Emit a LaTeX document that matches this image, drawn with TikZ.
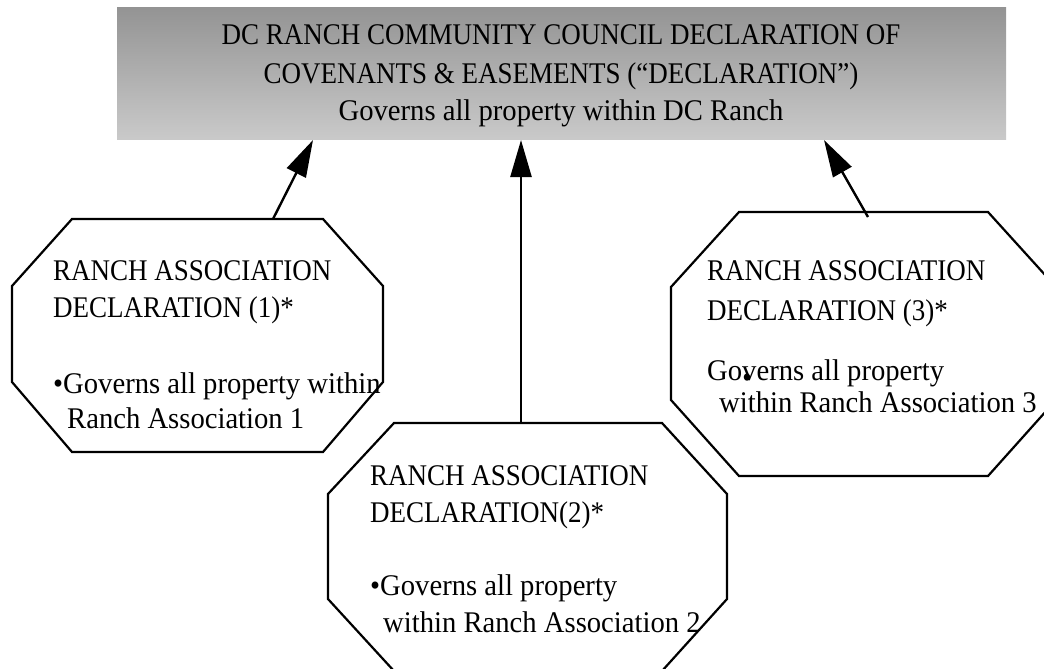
\documentclass[tikz,border=0pt]{standalone}
\usepackage{fontspec}
\setmainfont{Liberation Serif}[FakeStretch=0.9]
\newfontfamily\lcfont{Liberation Serif}[FakeStretch=0.955]
\usetikzlibrary{arrows.meta}
\begin{document}
\begin{tikzpicture}[x=1pt,y=-1pt,
  oct/.style={draw=black,line width=2.2pt,line join=miter},
  txt/.style={anchor=base west,inner sep=0pt,font=\fontsize{30}{36}\selectfont},
  lctxt/.style={anchor=base west,inner sep=0pt,font=\fontsize{30}{36}\selectfont\lcfont},
  ttl/.style={anchor=base,inner sep=0pt,font=\fontsize{30}{36}\selectfont},
  link/.style={line width=2.4pt,-{Triangle[length=37pt,width=21pt]}}]
\useasboundingbox (0,0) rectangle (1044,669);
% title box
\node[name=top,inner sep=0pt,minimum width=889pt,minimum height=131pt,
      top color=black!42,bottom color=black!21] at (561.5,73.5) {};
\node[ttl] (tl1) at (561,45) {DC RANCH COMMUNITY COUNCIL DECLARATION OF};
\node[ttl] (tl2) at (561,83) {COVENANTS \& EASEMENTS (“DECLARATION”)};
\node[ttl,font=\fontsize{30}{36}\selectfont\lcfont] (tl3) at (561,120) {Governs all property within DC Ranch};
% octagons
\begin{scope}
\clip (0,0) rectangle (1044,669);
\draw[oct] (72,219) -- (323,219) -- (383,286) -- (383,382) -- (323,452) -- (72,452) -- (12,382) -- (12,286) -- cycle;
\draw[oct] (394,423) -- (662,423) -- (727,494) -- (727,599) -- (662,671) -- (394,671) -- (328,599) -- (328,494) -- cycle;
\draw[oct] (739,212) -- (988,212) -- (1056,287) -- (1056,400) -- (988,476) -- (739,476) -- (671,400) -- (671,287) -- cycle;
\end{scope}
% octagon 1 text
\node[txt] (a1l1) at (53,280) {RANCH ASSOCIATION};
\node[txt] (a1l2) at (53,317) {DECLARATION (1)*};
\node[lctxt] (a1l3) at (53,393) {•Governs all property within};
\node[lctxt] (a1l4) at (67,428) {Ranch Association 1};
% octagon 2 text
\node[txt] (a2l1) at (370,485) {RANCH ASSOCIATION};
\node[txt] (a2l2) at (370,522) {DECLARATION(2)*};
\node[lctxt] (a2l3) at (370,595) {•Governs all property};
\node[lctxt] (a2l4) at (383,632) {within Ranch Association 2};
% octagon 3 text
\node[txt] (a3l1) at (707,280) {RANCH ASSOCIATION};
\node[txt] (a3l2) at (707,320) {DECLARATION (3)*};
\node[lctxt] (a3l3) at (707,380) {Governs all property};
\node[inner sep=0pt,font=\fontsize{30}{36}\selectfont] (a3b) at (747,381) {•};
\node[lctxt] (a3l4) at (719,412) {within Ranch Association 3};
% connectors
\coordinate (s1) at (273,219);
\coordinate (s2) at (521,423);
\coordinate (s3) at (868,217);
\coordinate (t1) at (313,140);
\coordinate (t2) at (521,140);
\coordinate (t3) at (824,140);
\draw[link] (s1) -- (t1);
\draw[link] (s2) -- (t2);
\draw[link] (s3) -- (t3);
\end{tikzpicture}
\end{document}
